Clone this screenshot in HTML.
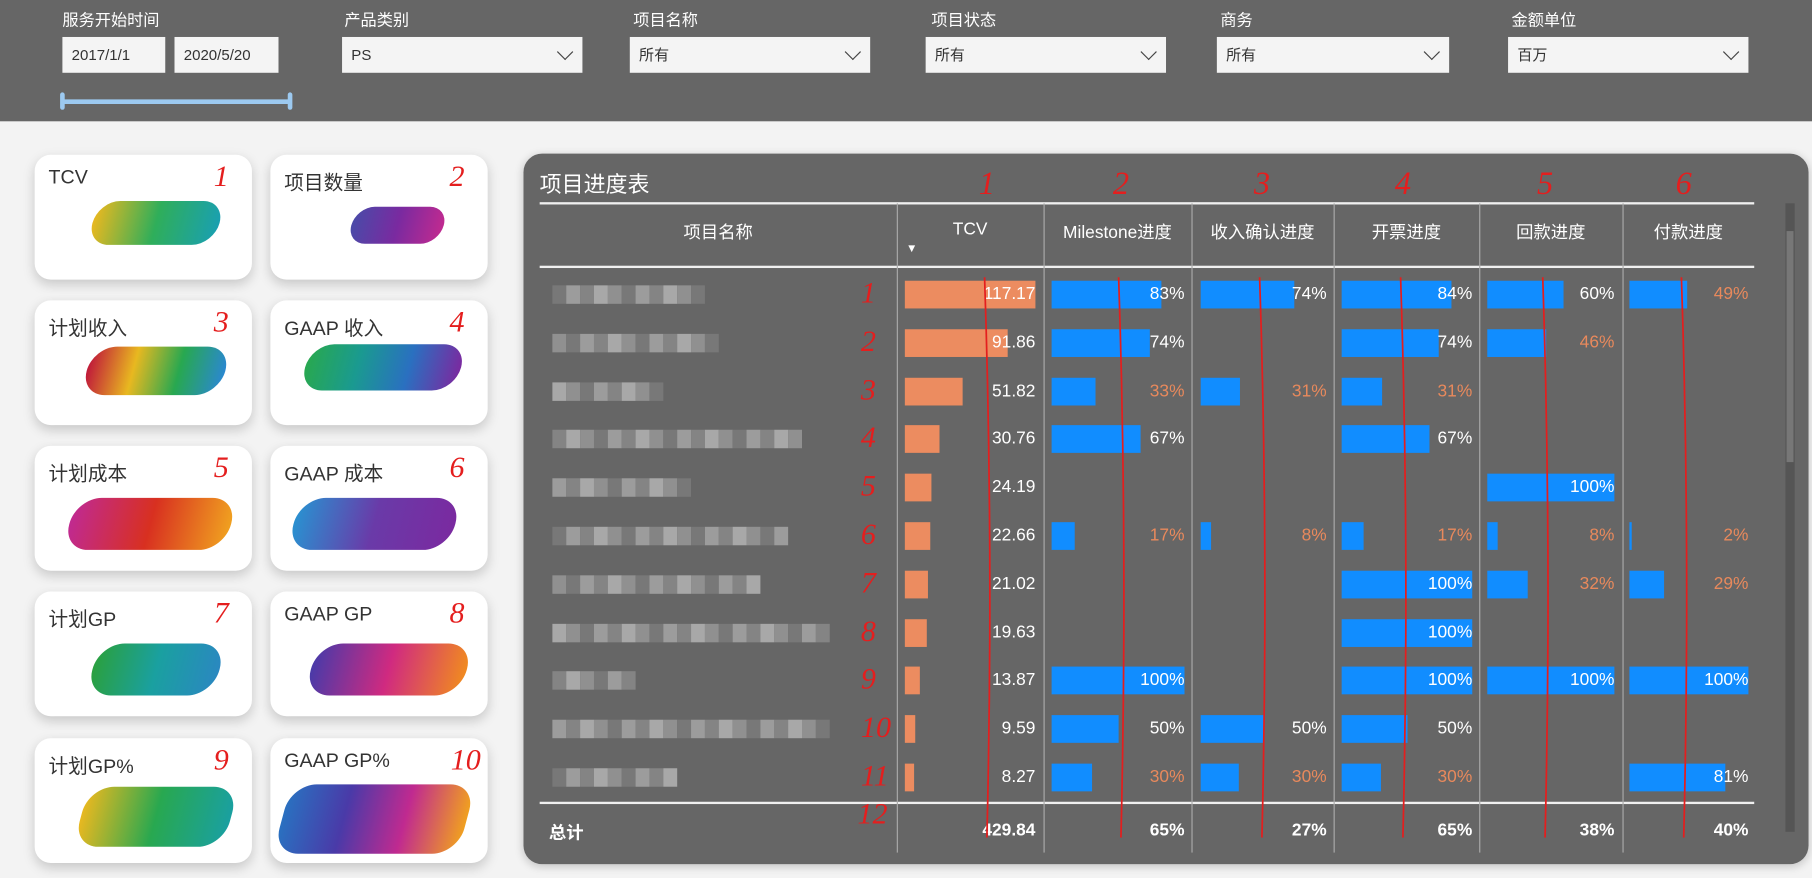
<!DOCTYPE html>
<html><head><meta charset="utf-8">
<style>
html,body{margin:0;padding:0;width:1812px;height:878px;overflow:hidden;background:#f3f3f3;}
#wrap{position:absolute;left:0;top:0;width:1568px;height:760px;transform:scale(1.15561,1.15526);transform-origin:0 0;font-family:"Liberation Sans","Noto Sans CJK SC",sans-serif;}
.abs{position:absolute;}
.top{left:0;top:0;width:1568px;height:105px;background:#666;}
.flab{color:#fff;font-size:14px;top:7px;}
.box{top:32px;height:31px;background:#f4f4f4;color:#333;font-size:13px;line-height:31px;padding-left:8px;box-sizing:border-box;}
.chev{position:absolute;right:10px;top:8px;width:9px;height:9px;border-right:1.3px solid #444;border-bottom:1.3px solid #444;transform:rotate(45deg);}
.card{width:188px;height:108px;background:#fff;border-radius:14px;box-shadow:0 4px 10px rgba(0,0,0,0.18);overflow:hidden;}
.ct{position:absolute;left:12px;top:10px;font-size:17px;color:#333;}
.rn{position:absolute;color:#e41e1e;font-style:italic;font-size:26px;font-family:"Liberation Serif",serif;}
.blob{position:absolute;border-radius:22px;transform:skewX(-15deg);}
.panel{left:453px;top:133px;width:1112px;height:615px;background:#666;border-radius:16px;box-shadow:0 2px 8px rgba(0,0,0,0.2);}
.hl{background:#f0f0f0;height:2px;}
.vs{width:1px;background:#aaa;}
.ht{color:#fff;font-size:15px;text-align:center;}
.cell{color:#fff;font-size:15px;text-align:right;}
.bar{height:24px;}
</style></head><body>
<div id="wrap">
<div class="abs top"></div>
<div class="abs flab" style="left:54px">服务开始时间</div>
<div class="abs box" style="left:54px;width:89px">2017/1/1</div>
<div class="abs box" style="left:151px;width:90px">2020/5/20</div>
<div class="abs" style="left:54px;top:86px;width:198px;height:4px;background:#9cc9f0;border-radius:2px"></div>
<div class="abs" style="left:52px;top:80px;width:4px;height:15px;background:#9cc9f0;border-radius:2px"></div>
<div class="abs" style="left:249px;top:80px;width:4px;height:15px;background:#9cc9f0;border-radius:2px"></div>
<div class="abs flab" style="left:298px">产品类别</div>
<div class="abs box" style="left:296px;width:208px">PS<span class="chev"></span></div>
<div class="abs flab" style="left:548px">项目名称</div>
<div class="abs box" style="left:545px;width:208px">所有<span class="chev"></span></div>
<div class="abs flab" style="left:806px">项目状态</div>
<div class="abs box" style="left:801px;width:208px">所有<span class="chev"></span></div>
<div class="abs flab" style="left:1056px">商务</div>
<div class="abs box" style="left:1053px;width:201px">所有<span class="chev"></span></div>
<div class="abs flab" style="left:1308px">金额单位</div>
<div class="abs box" style="left:1305px;width:208px">百万<span class="chev"></span></div>

<div class="abs panel"></div>
<div class="abs" style="left:467px;top:145px;color:#fff;font-size:19px">项目进度表</div>
<div class="abs" style="left:1545px;top:176px;width:8px;height:544px;background:#555"></div>
<div class="abs" style="left:1546px;top:200px;width:6px;height:200px;background:#777"></div>
</div>
<script>
const tcv=[117.17,91.86,51.82,30.76,24.19,22.66,21.02,19.63,13.87,9.59,8.27];
const milestone=[83,74,33,67,null,17,null,null,100,50,30];
const revenue=[74,null,31,null,null,8,null,null,null,50,30];
const invoice=[84,74,31,67,null,17,100,100,100,50,30];
const collection=[60,46,null,null,100,8,32,null,100,null,null];
const payment=[49,null,null,null,null,2,29,null,100,null,81];
const totals=["429.84","65%","27%","65%","38%","40%"];
const headers=["项目名称","TCV","Milestone进度","收入确认进度","开票进度","回款进度","付款进度"];
const cardTitles=["TCV","项目数量","计划收入","GAAP 收入","计划成本","GAAP 成本","计划GP","GAAP GP","计划GP%","GAAP GP%"];
const W=document.getElementById('wrap');
function mk(cls,st,txt){const d=document.createElement('div');d.className='abs '+cls;d.style.cssText=st;if(txt!=null)d.textContent=txt;W.appendChild(d);return d;}
const grads=["#e8b820,#2fae5a,#1aa0b0","#4a4aa8,#7a2aa0,#c02a90","#c01a3a,#e8b820,#28a850,#2a88d0","#28a850,#1a9a90,#2a70c0,#7a2aa0","#c02a90,#d83020,#f0a020","#2a90d0,#6a3aa8,#7a2aa0","#2aa040,#1aa0a0,#2a88c0","#4a3aa8,#d02a80,#f08a20","#e8b820,#28a850,#1aa0a0","#2a70c0,#4a3aa8,#c02a90,#f0a020"];
const blobs=[[50,40,110,38],[70,45,80,32],[45,40,120,42],[30,38,135,40],[30,45,140,45],[20,45,140,45],[50,45,110,45],[35,45,135,45],[40,42,130,52],[10,40,160,60]];
for(let i=0;i<10;i++){
 const x=i%2?234:30,y=[134,260,386,512,639][Math.floor(i/2)];
 const c=mk('card',`left:${x}px;top:${y}px`);
 
 
 const t=document.createElement('div');t.className='ct';t.textContent=cardTitles[i];c.appendChild(t);
 const b=document.createElement('div');b.className='blob';const bb=blobs[i];
 b.style.cssText=`left:${bb[0]}px;top:${bb[1]}px;width:${bb[2]}px;height:${bb[3]}px;background:linear-gradient(90deg,${grads[i]})`;c.appendChild(b);
 const r=document.createElement('div');r.className='rn';r.textContent=String(i+1);r.style.cssText+=`right:${i==9?6:20}px;top:4px`;c.appendChild(r);
}
const cols=[467,776,903,1031,1154,1280,1404,1518];
let e=mk('hl','left:467px;top:175px;width:1051px');
e=mk('hl','left:467px;top:230px;width:1051px');
e=mk('hl','left:467px;top:694px;width:1051px');
for(let j=1;j<7;j++){e=mk('vs',`left:${cols[j]}px;top:176px;height:562px`);}
for(let j=0;j<7;j++){e=mk('ht',`left:${cols[j]}px;top:190px;width:${cols[j+1]-cols[j]}px`,headers[j]);}
e=mk('','left:784px;top:210px;color:#fff;font-size:10px','▼');
const rowY=i=>255+i*41.8;
const nameW=[125,140,90,210,115,195,175,230,70,230,105];
for(let i=0;i<11;i++){const y=rowY(i);
 for(let k=0;k*12<nameW[i];k++){const g=120+((i*7+k*13)%5)*12;
  e=mk('',`left:${478+k*12}px;top:${y-8}px;width:12px;height:16px;background:rgb(${g},${g},${g})`);}
 e=mk('rn',`left:745px;top:${y-16}px`,String(i+1));
}
e=mk('rn','left:742px;top:690px','12');
const tmax=Math.max(...tcv);
for(let i=0;i<11;i++){const y=rowY(i);
 e=mk('bar',`left:783px;top:${y-12}px;width:${tcv[i]/tmax*113}px;background:#ec8c60`);
 e=mk('cell',`left:780px;top:${y-9}px;width:116px`,tcv[i].toFixed(2));}
const pcols=[[milestone,910,115,1025],[revenue,1039,110,1148],[invoice,1161,113,1274],[collection,1287,110,1397],[payment,1410,103,1513]];
const pnames=['milestone','revenue','invoice','collection','payment'];
pcols.forEach((pc,ci)=>{const [arr,x0,w,xr]=pc;
 for(let i=0;i<11;i++){if(arr[i]==null)continue;const y=rowY(i);
  e=mk('bar',`left:${x0}px;top:${y-12}px;width:${Math.max(2,arr[i]/100*w)}px;background:#118dff`);
  e=mk('cell',`left:${xr-80}px;top:${y-9}px;width:80px;color:${arr[i]>=50?'#fff':'#e8895c'}`,arr[i]+'%');}
});
e=mk('','left:475px;top:710px;color:#fff;font-size:15px;font-weight:bold','总计');
const tr=[896,1025,1148,1274,1397,1513];
for(let j=0;j<6;j++){e=mk('cell',`left:${tr[j]-90}px;top:710px;width:90px;font-weight:bold`,totals[j]);}
const ann=[[852,'1'],[968,'2'],[1090,'3'],[1212,'4'],[1335,'5'],[1455,'6']];
const svgNS='http://www.w3.org/2000/svg';
const svg=document.createElementNS(svgNS,'svg');svg.setAttribute('width','1568');svg.setAttribute('height','760');svg.style.cssText='position:absolute;left:0;top:0';

ann.forEach(a=>{const p=document.createElementNS(svgNS,'path');const x=a[0];
 p.setAttribute('d',`M${x} 240 Q${x+8} 480 ${x+2} 725`);p.setAttribute('stroke','#e41e1e');p.setAttribute('stroke-width','1.5');p.setAttribute('fill','none');svg.appendChild(p);
 const t=document.createElementNS(svgNS,'text');t.setAttribute('x',x-5);t.setAttribute('y',168);t.setAttribute('fill','#e41e1e');t.setAttribute('font-size','28');t.setAttribute('font-style','italic');t.setAttribute('font-family','Liberation Serif, serif');t.textContent=a[1];svg.appendChild(t);});
W.appendChild(svg);
</script>
</body></html>
